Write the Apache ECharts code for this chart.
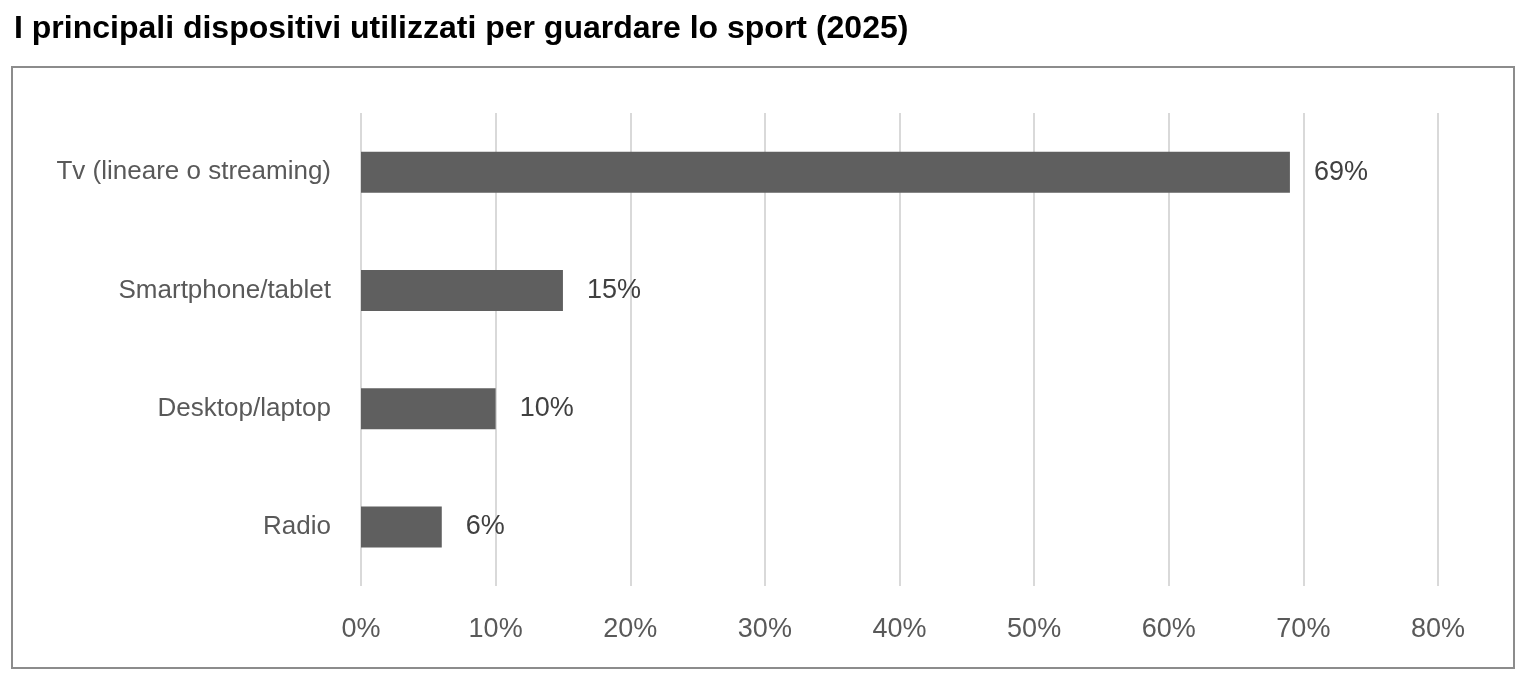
<!DOCTYPE html>
<html>
<head>
<meta charset="utf-8">
<script src="https://cdn.jsdelivr.net/npm/echarts@6/dist/echarts.min.js"></script>
<style>
  html, body { margin: 0; padding: 0; background: #fff; }
  #chart { width: 1530px; height: 676px; }
</style>
</head>
<body>
<div id="chart"></div>
<script>
const categories = ["Radio", "Desktop/laptop", "Smartphone/tablet", "Tv (lineare o streaming)"];
const values = [6, 10, 15, 69];
const font = "'Liberation Sans', Arial, sans-serif";

const myChart = echarts.init(document.getElementById("chart"));
const option = {
  animation: false,
  title: {
    text: "I principali dispositivi utilizzati per guardare lo sport (2025)",
    left: 9,
    top: 8,
    textStyle: { fontFamily: font, fontSize: 32, fontWeight: "bold", color: "#000" },
  },
  graphic: [
    {
      type: "rect",
      shape: { x: 12, y: 67, width: 1502, height: 601 },
      style: { fill: "none", stroke: "#8c8c8c", lineWidth: 2 },
      silent: true,
    },
  ],
  grid: { left: 361, right: 92, top: 113, bottom: 90 },
  xAxis: {
    type: "value",
    min: 0,
    max: 80,
    interval: 10,
    axisLine: { show: false },
    axisTick: { show: false },
    splitLine: { lineStyle: { color: "#d9d9d9", width: 2 } },
    axisLabel: {
      formatter: "{value}%",
      margin: 30,
      fontFamily: font,
      fontSize: 27,
      color: "#595959",
    },
  },
  yAxis: {
    type: "category",
    data: categories,
    axisLine: { show: false },
    axisTick: { show: false },
    axisLabel: { margin: 30, fontFamily: font, fontSize: 26, color: "#595959" },
  },
  series: [
    {
      type: "bar",
      data: values,
      barWidth: 41,
      itemStyle: { color: "#5f5f5f" },
      label: {
        show: true,
        position: "right",
        distance: 24,
        formatter: "{c}%",
        fontFamily: font,
        fontSize: 27,
        color: "#404040",
      },
    },
  ],
};
myChart.setOption(option);
window.onresize = function () {
  myChart.resize();
};
</script>
</body>
</html>
